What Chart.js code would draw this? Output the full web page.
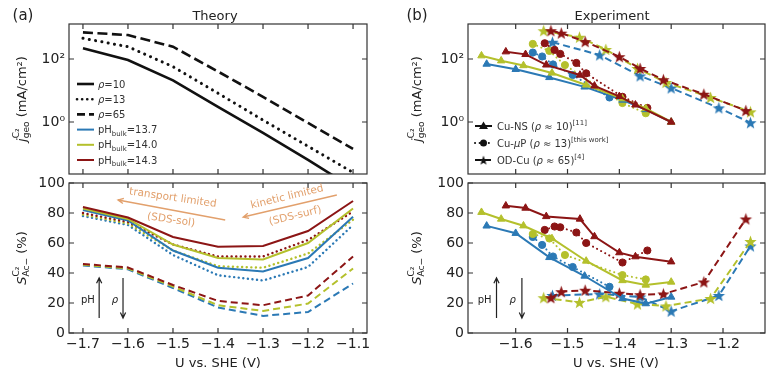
<!DOCTYPE html>
<html>
<head>
<meta charset="utf-8">
<script src="https://cdn.jsdelivr.net/npm/chart.js@4.4.0/dist/chart.umd.min.js"></script>
<style>
  body { margin: 0; background: #fff; }
  #wrap { position: relative; width: 779px; height: 375px; }
  #wrap canvas { position: absolute; left: 0; top: 0; }
</style>
</head>
<body>
<div id="wrap">
  <canvas id="tl" width="779" height="375"></canvas>
  <canvas id="bl" width="779" height="375"></canvas>
  <canvas id="tr" width="779" height="375"></canvas>
  <canvas id="br" width="779" height="375"></canvas>
</div>
<script>
// ---- data ----
const theoryU = [-1.7, -1.6, -1.5, -1.4, -1.3, -1.2, -1.1];
const jRho10 = [220, 93, 21, 3.0, 0.45, 0.063, 0.008];
const jRho13 = [455, 245, 57, 8.2, 1.15, 0.17, 0.025];
const jRho65 = [700, 575, 245, 40, 6.3, 0.93, 0.14];

const sRho10Blue = [82, 75, 55, 43.5, 41, 50, 77.5];
const sRho10Olive = [83, 76, 59, 50, 49, 60, 83];
const sRho10Red = [84, 77, 64, 57.5, 58, 68, 88];
const sRho13Blue = [78, 72, 52, 38.5, 35, 44, 72];
const sRho13Olive = [79, 73, 55, 44.5, 43.5, 53, 75.5];
const sRho13Red = [80, 74, 59, 51, 51, 62, 81];
const sRho65Blue = [45, 42.5, 30, 17, 11.4, 14, 33];
const sRho65Olive = [45.5, 43, 31, 18.5, 14.7, 19.6, 43];
const sRho65Red = [46, 43.7, 32, 21.4, 18.5, 25, 51];

// Cu-NS (triangles)
const nsBlueU = [-1.656, -1.60, -1.535, -1.467, -1.394, -1.349, -1.30];
const nsBlueJ = [69, 47, 26, 13, 5, 2.5, 1.0];
const nsBlueS = [71.4, 66.5, 50.4, 38, 23, 19.6, 24];
const nsOliveU = [-1.666, -1.628, -1.585, -1.53, -1.464, -1.394, -1.349, -1.30];
const nsOliveJ = [127, 88, 62, 36, 15, 5.5, 2.7, 1.0];
const nsOliveS = [80.5, 76, 71.5, 63, 48, 35, 32, 34];
const nsRedU = [-1.619, -1.581, -1.541, -1.476, -1.448, -1.40, -1.369, -1.30];
const nsRedJ = [170, 140, 65, 31, 14, 6.5, 3.5, 1.0];
const nsRedS = [84.8, 83.3, 77.7, 76, 64.3, 53.6, 50.9, 47.5];

// Cu-uP (circles)
const upBlueU = [-1.567, -1.549, -1.528, -1.49, -1.419];
const upBlueJ = [160, 120, 67, 31, 6];
const upBlueS = [64, 58.7, 51, 44, 30.8];
const upOliveU = [-1.567, -1.535, -1.505, -1.394, -1.349];
const upOliveJ = [300, 180, 64, 4, 1.9];
const upOliveS = [66, 63, 52, 38.6, 35.7];
const upRedU = [-1.544, -1.525, -1.514, -1.483, -1.464, -1.394, -1.346];
const upRedJ = [316, 194, 145, 75, 35, 6.3, 2.8];
const upRedS = [68.7, 71, 70.5, 67, 60, 47, 55];

// OD-Cu (stars)
const odBlueU = [-1.529, -1.438, -1.36, -1.30, -1.208, -1.147];
const odBlueJ = [340, 134, 29, 12, 2.8, 0.95];
const odBlueS = [25, 26, 24, 14.5, 25, 58];
const odOliveU = [-1.546, -1.477, -1.426, -1.365, -1.31, -1.224, -1.147];
const odOliveJ = [790, 490, 200, 50, 18, 6, 2.1];
const odOliveS = [23.5, 20.4, 24.2, 19.3, 18, 23, 61];
const odRedU = [-1.532, -1.512, -1.466, -1.40, -1.36, -1.315, -1.237, -1.156];
const odRedJ = [790, 660, 355, 118, 50, 22, 7.6, 2.3];
const odRedS = [23.5, 27.5, 28.5, 26.5, 25.5, 26, 34, 76];

const theoryTicksU = [-1.7, -1.6, -1.5, -1.4, -1.3, -1.2, -1.1];
const exptTicksU = [-1.6, -1.5, -1.4, -1.3, -1.2];
const selTicks = [0, 20, 40, 60, 80, 100];
const jTicks = [1, 100];

// ---- styling ----
const W = 779, H = 375;
const FONT = '"DejaVu Sans"';
const INK = '#222';
const BLUE = '#2b79b5', OLIVE = '#b4c02c', RED = '#8c1515', ORANGE = '#e2a06c';
Chart.defaults.font.family = FONT;
Chart.defaults.color = INK;

const fmtU = v => v.toFixed(1).replace('-', '\u2212');

function starImg(color, r) {
  const c = document.createElement('canvas');
  const s = Math.ceil(r * 2 + 2);
  c.width = c.height = s;
  const g = c.getContext('2d');
  g.translate(s / 2, s / 2 + 0.6);
  g.beginPath();
  for (let i = 0; i < 10; i++) {
    const rr = i % 2 ? r * 0.42 : r;
    const a = -Math.PI / 2 + i * Math.PI / 5;
    g.lineTo(rr * Math.cos(a), rr * Math.sin(a));
  }
  g.closePath();
  g.fillStyle = color;
  g.fill();
  return c;
}

function line(xs, ys, color, style, extra = {}) {
  const dash = style === 'dot' ? [0.1, 4.5] : style === 'dash' ? [7, 4] : [];
  return Object.assign({
    data: xs.map((x, i) => ({ x, y: ys[i] })),
    borderColor: color, backgroundColor: color,
    borderWidth: 2, borderDash: dash, borderCapStyle: style === 'dot' ? 'round' : 'butt',
    pointRadius: 0, tension: 0, fill: false
  }, extra);
}

function marked(xs, ys, color, style, marker) {
  const ps = marker === 'star' ? starImg(color, 6.5) : marker;
  return line(xs, ys, color, style, {
    pointStyle: ps, pointRadius: marker === 'circle' ? 3.6 : 4.3,
    pointBackgroundColor: color, pointBorderColor: color, pointBorderWidth: 1
  });
}

// rich text: parts = [[text, kind]], kind n|i|sup|sub|st (stacked "sup|sub")
function fontFor(k, size) {
  const s = (k === 'sup' || k === 'sub' || k === 'st') ? size * 0.7 : size;
  return (k === 'i' ? 'italic ' : '') + s + 'px ' + FONT;
}
function rich(ctx, parts, x, y, size, color, rot = 0, align = 'center') {
  ctx.save();
  ctx.translate(x, y);
  ctx.rotate(rot);
  ctx.fillStyle = color;
  ctx.textAlign = 'left';
  ctx.textBaseline = 'alphabetic';
  const ws = parts.map(p => {
    ctx.font = fontFor(p[1], size);
    if (p[1] === 'st') {
      const [a, b] = p[0].split('|');
      return Math.max(ctx.measureText(a).width, ctx.measureText(b).width);
    }
    return ctx.measureText(p[0]).width;
  });
  const total = ws.reduce((a, b) => a + b, 0);
  let cx = align === 'center' ? -total / 2 : align === 'right' ? -total : 0;
  const base = size * 0.36;
  parts.forEach((p, i) => {
    const k = p[1];
    ctx.font = fontFor(k, size);
    if (k === 'st') {
      const [a, b] = p[0].split('|');
      ctx.fillText(a, cx, base - size * 0.48);
      ctx.fillText(b, cx, base + size * 0.28);
    } else {
      ctx.fillText(p[0], cx, base + (k === 'sup' ? -size * 0.45 : k === 'sub' ? size * 0.28 : 0));
    }
    cx += ws[i];
  });
  ctx.restore();
}

function arrow(ctx, x1, y1, x2, y2, color, lw) {
  const a = Math.atan2(y2 - y1, x2 - x1), h = 6;
  ctx.save();
  ctx.strokeStyle = color;
  ctx.lineWidth = lw;
  ctx.beginPath();
  ctx.moveTo(x1, y1); ctx.lineTo(x2, y2);
  ctx.moveTo(x2 - h * Math.cos(a - 0.45), y2 - h * Math.sin(a - 0.45));
  ctx.lineTo(x2, y2);
  ctx.lineTo(x2 - h * Math.cos(a + 0.45), y2 - h * Math.sin(a + 0.45));
  ctx.stroke();
  ctx.restore();
}

const jTitle = [['j', 'i'], ['C\u2082|geo', 'st'], [' (mA/cm\u00b2)', 'n']];
const sTitle = [['S', 'i'], ['C\u2082|Ac\u2212', 'st'], [' (%)', 'n']];

const frame = {
  id: 'frame',
  afterDatasetsDraw(chart) {
    const { ctx, chartArea: a, scales: { x, y } } = chart;
    ctx.save();
    ctx.strokeStyle = '#333';
    ctx.lineWidth = 1.2;
    ctx.strokeRect(a.left, a.top, a.right - a.left, a.bottom - a.top);
    ctx.beginPath();
    x.ticks.forEach(t => {
      const p = x.getPixelForValue(t.value);
      ctx.moveTo(p, a.bottom); ctx.lineTo(p, a.bottom - 5);
      ctx.moveTo(p, a.top); ctx.lineTo(p, a.top + 5);
    });
    y.ticks.forEach(t => {
      const p = y.getPixelForValue(t.value);
      ctx.moveTo(a.left, p); ctx.lineTo(a.left + 5, p);
      ctx.moveTo(a.right, p); ctx.lineTo(a.right - 5, p);
    });
    ctx.stroke();
    ctx.restore();
  }
};

function panel(id, area, xr, xt, logY, datasets, draw) {
  const yScale = logY ? {
    type: 'logarithmic', min: Math.pow(10, -1.65), max: Math.pow(10, 3.11),
    afterBuildTicks: s => { s.ticks = jTicks.map(v => ({ value: v })); },
    ticks: { callback: v => (v === 100 ? '10\u00b2' : '10\u2070') }
  } : {
    type: 'linear', min: 0, max: 100,
    afterBuildTicks: s => { s.ticks = selTicks.map(v => ({ value: v })); },
    ticks: { callback: v => String(v) }
  };
  yScale.afterFit = s => { s.width = area.l; };
  yScale.grid = { display: false, drawTicks: false };
  yScale.border = { display: false };
  Object.assign(yScale.ticks, { padding: 4, font: { size: 14 }, color: INK });
  return new Chart(document.getElementById(id), {
    type: 'line',
    data: { datasets },
    options: {
      responsive: false,
      animation: false,
      layout: { padding: { left: 0, top: area.t, right: W - area.r, bottom: 0 } },
      plugins: { legend: { display: false }, tooltip: { enabled: false } },
      scales: {
        x: {
          type: 'linear', min: xr[0], max: xr[1],
          afterBuildTicks: s => { s.ticks = xt.map(v => ({ value: v })); },
          afterFit: s => { s.height = H - area.b; },
          grid: { display: false, drawTicks: false },
          border: { display: false },
          ticks: { display: !logY, padding: 3, font: { size: 14 }, color: INK, callback: v => fmtU(v) }
        },
        y: yScale
      }
    },
    plugins: [frame, { id: 'extra', afterDraw: draw }]
  });
}

const leftX = [-1.731, -1.069];
const rightX = [-1.692, -1.119];
const topArea = { t: 24, b: 174 };
const botArea = { t: 183, b: 333 };

// ---- (a) theory, current ----
panel('tl', { l: 69, r: 367, ...topArea }, leftX, theoryTicksU, true, [
  line(theoryU, jRho10, '#111', 'solid', { borderWidth: 2.6 }),
  line(theoryU, jRho13, '#111', 'dot', { borderWidth: 3, borderDash: [0.1, 6.3] }),
  line(theoryU, jRho65, '#111', 'dash', { borderWidth: 2.6, borderDash: [10, 4.5] })
], chart => {
  const ctx = chart.ctx;
  rich(ctx, [['(a)', 'n']], 23, 15, 15, INK);
  rich(ctx, [['Theory', 'n']], 215, 15, 13, INK);
  rich(ctx, jTitle, 21, 99, 13, INK, -Math.PI / 2);
  const rows = [
    ['#111', [], [['\u03c1', 'i'], ['=10', 'n']], 2.6],
    ['#111', [0.1, 5], [['\u03c1', 'i'], ['=13', 'n']], 2.6],
    ['#111', [8, 4], [['\u03c1', 'i'], ['=65', 'n']], 2.6],
    [BLUE, [], [['pH', 'n'], ['bulk', 'sub'], ['=13.7', 'n']], 2],
    [OLIVE, [], [['pH', 'n'], ['bulk', 'sub'], ['=14.0', 'n']], 2],
    [RED, [], [['pH', 'n'], ['bulk', 'sub'], ['=14.3', 'n']], 2]
  ];
  rows.forEach((r, i) => {
    const yy = 84 + i * 15.2;
    ctx.save();
    ctx.strokeStyle = r[0]; ctx.lineWidth = r[3]; ctx.setLineDash(r[1]);
    ctx.lineCap = r[1].length && r[1][0] < 1 ? 'round' : 'butt';
    ctx.beginPath(); ctx.moveTo(77, yy); ctx.lineTo(94, yy); ctx.stroke();
    ctx.restore();
    rich(ctx, r[2], 98, yy, 10, '#333', 0, 'left');
  });
});

// ---- (a) theory, selectivity ----
panel('bl', { l: 69, r: 367, ...botArea }, leftX, theoryTicksU, false, [
  line(theoryU, sRho10Red, RED, 'solid'),
  line(theoryU, sRho10Olive, OLIVE, 'solid'),
  line(theoryU, sRho10Blue, BLUE, 'solid'),
  line(theoryU, sRho13Red, RED, 'dot', { borderWidth: 2.4 }),
  line(theoryU, sRho13Olive, OLIVE, 'dot', { borderWidth: 2.4 }),
  line(theoryU, sRho13Blue, BLUE, 'dot', { borderWidth: 2.4 }),
  line(theoryU, sRho65Red, RED, 'dash'),
  line(theoryU, sRho65Olive, OLIVE, 'dash'),
  line(theoryU, sRho65Blue, BLUE, 'dash')
], chart => {
  const { ctx, scales: { x, y } } = chart;
  const P = (u, s) => [x.getPixelForValue(u), y.getPixelForValue(s)];
  rich(ctx, sTitle, 21, 258, 13, INK, -Math.PI / 2);
  rich(ctx, [['U vs. SHE (V)', 'n']], 218, 362, 13, INK);
  arrow(ctx, ...P(-1.384, 75.3), ...P(-1.622, 88.7), ORANGE, 1.4);
  arrow(ctx, ...P(-1.136, 92), ...P(-1.344, 77.3), ORANGE, 1.4);
  rich(ctx, [['transport limited', 'n']], ...P(-1.5, 90.7), 10.5, ORANGE, 0.145);
  rich(ctx, [['(SDS-sol)', 'n']], ...P(-1.504, 76), 10.5, ORANGE, 0.145);
  rich(ctx, [['kinetic limited', 'n']], ...P(-1.247, 91.3), 10.5, ORANGE, -0.24);
  rich(ctx, [['(SDS-surf)', 'n']], ...P(-1.229, 78.7), 10.5, ORANGE, -0.24);
  arrow(ctx, ...P(-1.664, 10), ...P(-1.664, 36.7), INK, 1.2);
  arrow(ctx, ...P(-1.611, 36.7), ...P(-1.611, 10), INK, 1.2);
  rich(ctx, [['pH', 'n']], ...P(-1.689, 22.7), 10, INK);
  rich(ctx, [['\u03c1', 'i']], ...P(-1.629, 22.7), 10, INK);
});

// ---- (b) experiment, current ----
panel('tr', { l: 468, r: 765, ...topArea }, rightX, exptTicksU, true, [
  marked(nsRedU, nsRedJ, RED, 'solid', 'triangle'),
  marked(nsOliveU, nsOliveJ, OLIVE, 'solid', 'triangle'),
  marked(nsBlueU, nsBlueJ, BLUE, 'solid', 'triangle'),
  marked(upRedU, upRedJ, RED, 'dot', 'circle'),
  marked(upOliveU, upOliveJ, OLIVE, 'dot', 'circle'),
  marked(upBlueU, upBlueJ, BLUE, 'dot', 'circle'),
  marked(odRedU, odRedJ, RED, 'dash', 'star'),
  marked(odOliveU, odOliveJ, OLIVE, 'dash', 'star'),
  marked(odBlueU, odBlueJ, BLUE, 'dash', 'star')
], chart => {
  const ctx = chart.ctx;
  rich(ctx, [['(b)', 'n']], 417, 15, 15, INK);
  rich(ctx, [['Experiment', 'n']], 612, 15, 13, INK);
  rich(ctx, jTitle, 416, 99, 13, INK, -Math.PI / 2);
  const rows = [
    [[], 'triangle', [['Cu-NS (', 'n'], ['\u03c1', 'i'], [' \u2248 10)', 'n'], ['[11]', 'sup']]],
    [[0.1, 4.5], 'circle', [['Cu-', 'n'], ['\u03bc', 'i'], ['P (', 'n'], ['\u03c1', 'i'], [' \u2248 13)', 'n'], ['[this work]', 'sup']]],
    [[6, 4], 'star', [['OD-Cu (', 'n'], ['\u03c1', 'i'], [' \u2248 65)', 'n'], ['[4]', 'sup']]]
  ];
  rows.forEach((r, i) => {
    const yy = 126 + i * 17;
    ctx.save();
    ctx.strokeStyle = '#111'; ctx.fillStyle = '#111'; ctx.lineWidth = 2; ctx.setLineDash(r[0]);
    ctx.lineCap = r[0].length && r[0][0] < 1 ? 'round' : 'butt';
    ctx.beginPath(); ctx.moveTo(475, yy); ctx.lineTo(492, yy); ctx.stroke();
    ctx.setLineDash([]);
    if (r[1] === 'triangle') {
      ctx.beginPath(); ctx.moveTo(483.5, yy - 4.5); ctx.lineTo(488, yy + 3); ctx.lineTo(479, yy + 3); ctx.closePath(); ctx.fill();
    } else if (r[1] === 'circle') {
      ctx.beginPath(); ctx.arc(483.5, yy, 3.5, 0, Math.PI * 2); ctx.fill();
    } else {
      const img = starImg('#111', 5);
      ctx.drawImage(img, 483.5 - img.width / 2, yy - img.height / 2);
    }
    ctx.restore();
    rich(ctx, r[2], 497, yy, 10, '#333', 0, 'left');
  });
});

// ---- (b) experiment, selectivity ----
panel('br', { l: 468, r: 765, ...botArea }, rightX, exptTicksU, false, [
  marked(nsRedU, nsRedS, RED, 'solid', 'triangle'),
  marked(nsOliveU, nsOliveS, OLIVE, 'solid', 'triangle'),
  marked(nsBlueU, nsBlueS, BLUE, 'solid', 'triangle'),
  marked(upRedU, upRedS, RED, 'dot', 'circle'),
  marked(upOliveU, upOliveS, OLIVE, 'dot', 'circle'),
  marked(upBlueU, upBlueS, BLUE, 'dot', 'circle'),
  marked(odRedU, odRedS, RED, 'dash', 'star'),
  marked(odOliveU, odOliveS, OLIVE, 'dash', 'star'),
  marked(odBlueU, odBlueS, BLUE, 'dash', 'star')
], chart => {
  const { ctx, scales: { x, y } } = chart;
  const P = (u, s) => [x.getPixelForValue(u), y.getPixelForValue(s)];
  rich(ctx, sTitle, 416, 258, 13, INK, -Math.PI / 2);
  rich(ctx, [['U vs. SHE (V)', 'n']], 616, 362, 13, INK);
  arrow(ctx, ...P(-1.637, 10), ...P(-1.637, 36.7), INK, 1.2);
  arrow(ctx, ...P(-1.588, 36.7), ...P(-1.588, 10), INK, 1.2);
  rich(ctx, [['pH', 'n']], ...P(-1.66, 22.7), 10, INK);
  rich(ctx, [['\u03c1', 'i']], ...P(-1.606, 22.7), 10, INK);
});
</script>
</body>
</html>
